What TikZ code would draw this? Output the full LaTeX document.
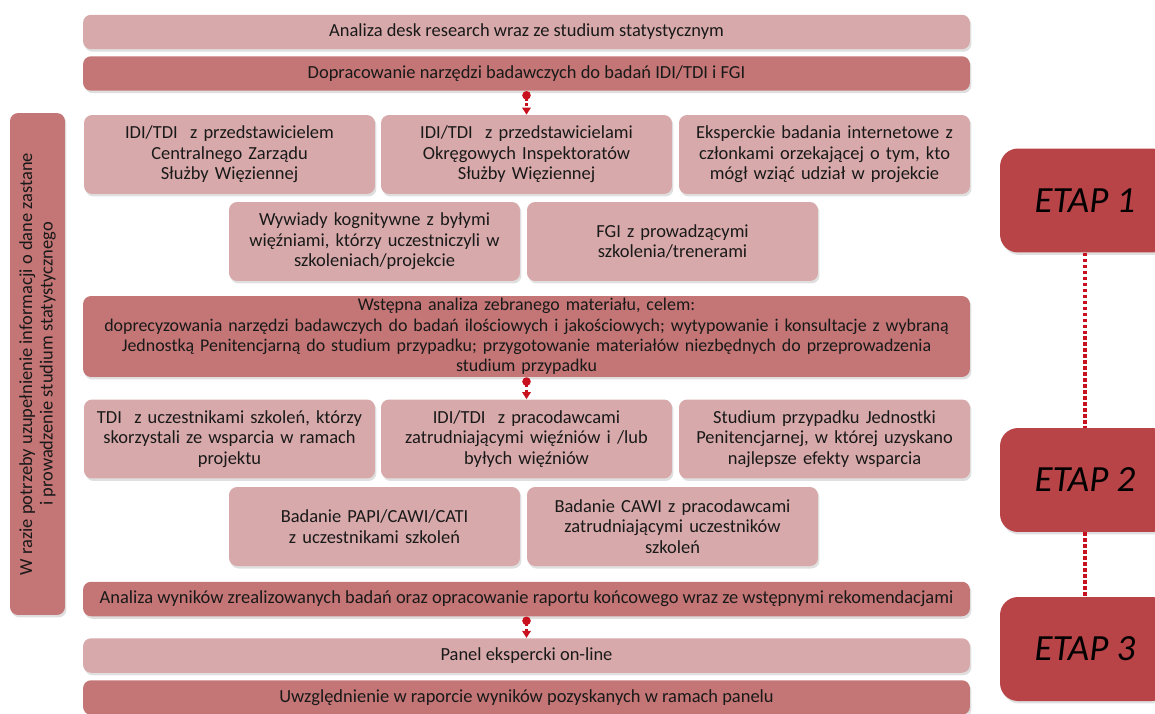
\documentclass[tikz,border=0pt]{standalone}
\usepackage{fontspec}
\setmainfont{Carlito}
\usetikzlibrary{arrows.meta, shadows}

\definecolor{lightrose}{RGB}{216,169,170}
\definecolor{darkrose}{RGB}{196,117,117}
\definecolor{etapred}{RGB}{185,68,71}
\definecolor{flowred}{RGB}{200,16,30}

\begin{document}
\begin{tikzpicture}[x=0.02cm, y=-0.02cm,
    box/.style={rounded corners=0.16cm, inner sep=0pt, align=center,
        text=black!90, font=\fontsize{10.5}{11.6}\selectfont,
        drop shadow={opacity=0.25, shadow xshift=0.03cm, shadow yshift=-0.05cm}},
    light/.style={box, fill=lightrose},
    dark/.style={box, fill=darkrose},
    wide/.style={minimum width=17.74cm, minimum height=0.69cm},
    cell/.style={minimum width=5.82cm, minimum height=1.58cm, text width=5.6cm},
    etap/.style={box, fill=etapred, rounded corners=0.36cm, minimum width=3.4cm,
        minimum height=2.08cm, font=\fontsize{21}{24}\selectfont\itshape, text=black},
    flow/.style={flowred, line width=1.2pt, dash pattern=on 1.4pt off 1.4pt,
        {Circle[length=4.8pt]}-{Triangle[length=4pt, width=4.8pt]}},
    stagelink/.style={flowred, line width=2pt, dash pattern=on 2pt off 1.4pt}]
    \useasboundingbox (0,0) rectangle (1155,713);

    % etap 1
    \node[light, wide] (desk) at (526.5,32) {Analiza desk research wraz ze studium statystycznym};
    \node[dark, wide] (prep) at (526.5,73.5) {Dopracowanie narzędzi badawczych do badań IDI/TDI i FGI};
    \node[light, cell] (czs) at (229.5,154.5) {IDI/TDI\ \ z przedstawicielem\\ Centralnego Zarządu\\ Służby Więziennej};
    \node[light, cell] (ois) at (526.5,154.5) {IDI/TDI\ \ z przedstawicielami\\ Okręgowych Inspektoratów\\ Służby Więziennej};
    \node[light, cell] (eksp) at (824.5,154.5) {Eksperckie badania internetowe z\\ członkami orzekającej o tym, kto\\ mógł wziąć udział w projekcie};
    \node[light, cell] (kogn) at (374.5,241.5) {Wywiady kognitywne z byłymi\\ więźniami, którzy uczestniczyli w\\ szkoleniach/projekcie};
    \node[light, cell] (fgi) at (672.5,241.5) {FGI z prowadzącymi\\ szkolenia/trenerami};

    % etap 2
    \node[dark, minimum width=17.74cm, minimum height=1.62cm, text width=17.7cm,
        font=\fontsize{10.2}{11.6}\selectfont] (wstep) at (526.5,336.5)
        {Wstępna analiza zebranego materiału, celem:\\ doprecyzowania narzędzi badawczych do badań ilościowych i jakościowych; wytypowanie i konsultacje z wybraną\\ Jednostką Penitencjarną do studium przypadku; przygotowanie materiałów niezbędnych do przeprowadzenia\\ studium przypadku};
    \node[light, cell] (tdi) at (229.5,439) {TDI\ \ z uczestnikami szkoleń, którzy\\ skorzystali ze wsparcia w ramach\\ projektu};
    \node[light, cell] (prac) at (526.5,439) {IDI/TDI\ \ z pracodawcami\\ zatrudniającymi więźniów i /lub\\ byłych więźniów};
    \node[light, cell] (studium) at (824.5,439) {Studium przypadku Jednostki\\ Penitencjarnej, w której uzyskano\\ najlepsze efekty wsparcia};
    \node[light, cell] (papi) at (374.5,526.5) {Badanie PAPI/CAWI/CATI\\ z uczestnikami szkoleń};
    \node[light, cell] (cawi) at (672.5,526.5) {Badanie CAWI z pracodawcami\\ zatrudniającymi uczestników\\ szkoleń};

    % etap 3
    \node[dark, wide] (raport) at (526.5,599) {Analiza wyników zrealizowanych badań oraz opracowanie raportu końcowego wraz ze wstępnymi rekomendacjami};
    \node[light, wide] (panel) at (526.5,655.5) {Panel ekspercki on-line};
    \node[dark, wide] (uwzgl) at (526.5,697.5) {Uwzględnienie w raporcie wyników pozyskanych w ramach panelu};

    % boczny pasek
    \node[dark, rotate=90, minimum width=10.04cm, minimum height=1.1cm] (zastane) at (37.5,364)
        {W razie potrzeby uzupełnienie informacji o dane zastane\\ i prowadzenie studium statystycznego};

    \node[etap] (e1) at (1085,200.5) {ETAP 1};
    \node[etap] (e2) at (1085,480) {ETAP 2};
    \node[etap] (e3) at (1085,649) {ETAP 3};

    \draw[flow] (prep.south) -- (ois.north);
    \draw[flow] (wstep.south) -- (prac.north);
    \draw[flow] (raport.south) -- (panel.north);
    \draw[stagelink] (e1.south) -- (e2.north);
    \draw[stagelink] (e2.south) -- (e3.north);
\end{tikzpicture}
\end{document}
